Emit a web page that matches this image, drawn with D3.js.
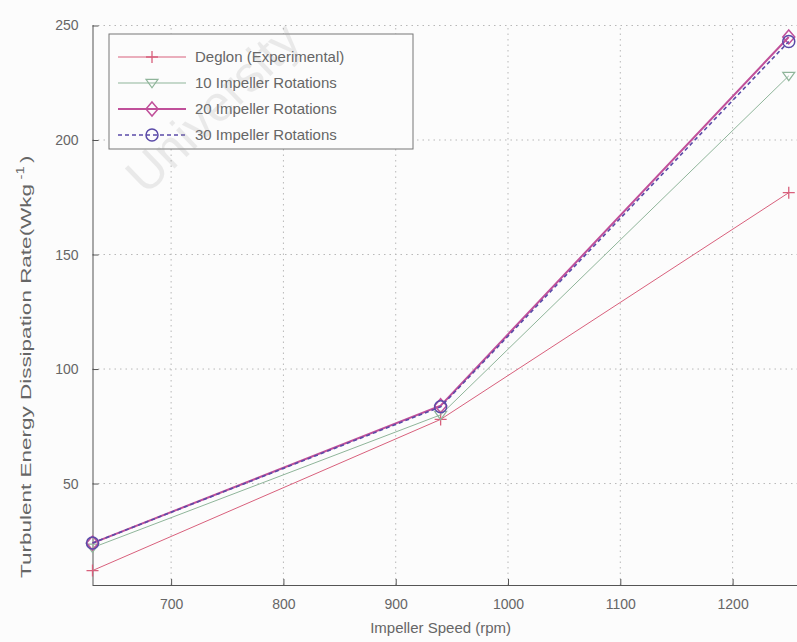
<!DOCTYPE html>
<html>
<head>
<meta charset="utf-8">
<script src="https://cdn.jsdelivr.net/npm/d3@7"></script>
<style>
  html, body { margin: 0; padding: 0; background: #fcfcfc; overflow: hidden; }
  svg { display: block; }
  text { font-family: "Liberation Sans", Arial, sans-serif; fill: #666; }
</style>
</head>
<body>
<svg id="chart" width="797" height="642"></svg>
<script>
// Impeller speeds (rpm)
const speeds = [630, 940, 1250];
// Turbulent energy dissipation rate (W/kg) per series
const deglon = [12, 78, 177];
const rot10 = [22, 80, 228];
const rot20 = [24, 84, 245];
const rot30 = [24, 83.5, 243];

const seriesNames = ["Deglon (Experimental)", "10 Impeller Rotations", "20 Impeller Rotations", "30 Impeller Rotations"];
const xTicks = [700, 800, 900, 1000, 1100, 1200];
const yTicks = [50, 100, 150, 200, 250];

const svg = d3.select("#chart");
const plotLeft = 92.5, plotBottom = 585, plotTop = 25.5;

const x = d3.scaleLinear().domain([630, 1260]).range([plotLeft, plotLeft + 630 * 1.123]);
const y = d3.scaleLinear().domain([5.7, 250]).range([plotBottom, plotTop]);

// dotted grid
const grid = svg.append("g").attr("stroke", "#b8b8b8").attr("stroke-dasharray", "1.5,4").attr("stroke-width", 1);
xTicks.forEach(t => grid.append("line").attr("x1", x(t)).attr("x2", x(t)).attr("y1", plotBottom).attr("y2", plotTop));
yTicks.forEach(t => grid.append("line").attr("x1", plotLeft).attr("x2", 797).attr("y1", y(t)).attr("y2", y(t)));

// axes (ticks pointing inward)
const xAxis = d3.axisBottom(x).tickValues(xTicks).tickSize(-6).tickPadding(14).tickFormat(d3.format("d"));
const gx = svg.append("g").attr("transform", `translate(0,${plotBottom})`).call(xAxis);
gx.select(".domain").attr("stroke", "#555").attr("d", `M${plotLeft},0.5H797`);
gx.selectAll(".tick line").attr("stroke", "#555");
gx.selectAll("text").attr("font-size", 14).style("fill", "#666");

const yAxis = d3.axisLeft(y).tickValues(yTicks).tickSize(-6).tickPadding(14);
const gy = svg.append("g").attr("transform", `translate(${plotLeft},0)`).call(yAxis);
gy.select(".domain").attr("stroke", "#555").attr("d", `M0.5,${plotBottom}V${plotTop}`);
gy.selectAll(".tick line").attr("stroke", "#555");
gy.selectAll("text").attr("font-size", 14).style("fill", "#666");

// axis titles
svg.append("text").attr("x", x(940)).attr("y", 633).attr("text-anchor", "middle")
  .attr("font-size", 15).text("Impeller Speed (rpm)");
// y title: glyphs elongated along the reading direction
const yt = svg.append("text").attr("transform", "translate(31,578) rotate(-90) scale(1.5,1)")
  .attr("text-anchor", "start").attr("font-size", 15);
yt.append("tspan").text("Turbulent Energy Dissipation Rate(Wkg");
yt.append("tspan").attr("dx", 3).attr("dy", -7).attr("font-size", 10).text("-1");
yt.append("tspan").attr("dx", 2).attr("dy", 7).text(")");

// series
const styles = [
  { data: deglon, color: "#d8607c", width: 1, dash: null, marker: "plus" },
  { data: rot10, color: "#8fb59a", width: 1, dash: null, marker: "tri" },
  { data: rot20, color: "#c0509a", width: 2, dash: null, marker: "diamond" },
  { data: rot30, color: "#5a4aa8", width: 1.6, dash: "4,3", marker: "circle" }
];

const line = d3.line().x(d => x(d[0])).y(d => y(d[1]));
const plot = svg.append("g");

function drawMarker(g, kind, cx, cy, color) {
  const s = 6;
  if (kind === "plus") {
    g.append("path").attr("d", `M${cx - s},${cy}H${cx + s}M${cx},${cy - s}V${cy + s}`)
      .attr("stroke", color).attr("stroke-width", 1.3).attr("fill", "none");
  } else if (kind === "tri") {
    g.append("path").attr("d", `M${cx - s},${cy - s * 0.6}L${cx + s},${cy - s * 0.6}L${cx},${cy + s * 0.8}Z`)
      .attr("stroke", color).attr("stroke-width", 1.2).attr("fill", "none");
  } else if (kind === "diamond") {
    g.append("path").attr("d", `M${cx},${cy - s - 1}L${cx + s},${cy}L${cx},${cy + s + 1}L${cx - s},${cy}Z`)
      .attr("stroke", color).attr("stroke-width", 1.5).attr("fill", "none");
  } else {
    g.append("circle").attr("cx", cx).attr("cy", cy).attr("r", s)
      .attr("stroke", color).attr("stroke-width", 1.5).attr("fill", "none");
  }
}

styles.forEach(st => {
  const pts = speeds.map((s, i) => [s, st.data[i]]);
  plot.append("path").datum(pts).attr("d", line)
    .attr("fill", "none").attr("stroke", st.color).attr("stroke-width", st.width)
    .attr("stroke-dasharray", st.dash);
  pts.forEach(p => drawMarker(plot, st.marker, x(p[0]), y(p[1]), st.color));
});

// legend
const lg = svg.append("g");
lg.append("rect").attr("x", 109).attr("y", 34).attr("width", 304).attr("height", 115)
  .attr("fill", "#fcfcfc").attr("stroke", "#777").attr("stroke-width", 1);
styles.forEach((st, i) => {
  const cy = 57 + i * 26;
  lg.append("line").attr("x1", 118).attr("x2", 186).attr("y1", cy).attr("y2", cy)
    .attr("stroke", st.color).attr("stroke-width", st.width).attr("stroke-dasharray", st.dash);
  drawMarker(lg, st.marker, 152, cy, st.color);
  lg.append("text").attr("x", 195).attr("y", cy + 5).attr("font-size", 15).style("fill", "#666")
    .text(seriesNames[i]);
});

// repository watermark, faint, over the plot
svg.append("text")
  .attr("transform", "translate(146,196) rotate(-44)")
  .attr("font-size", 50)
  .style("fill", "#999")
  .style("opacity", 0.18)
  .text("University");
</script>
</body>
</html>
